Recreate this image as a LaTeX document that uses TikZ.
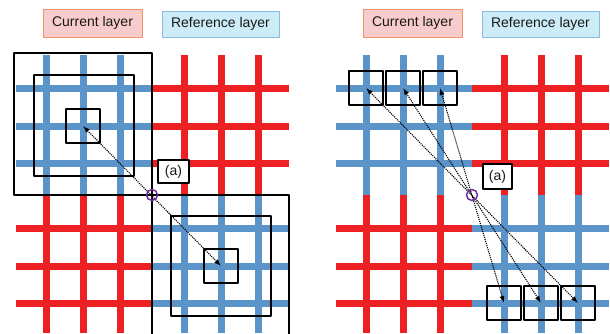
\documentclass[tikz,border=0pt]{standalone}
\usepackage{fontspec}
\setmainfont{Liberation Sans}
\usepackage{xcolor}
\usepackage{tikz}
\usetikzlibrary{arrows.meta,calc}

\definecolor{gridblue}{RGB}{91,148,201}
\definecolor{gridred}{RGB}{237,32,36}
\definecolor{curfill}{RGB}{248,203,204}
\definecolor{curedge}{RGB}{240,150,100}
\definecolor{reffill}{RGB}{204,236,248}
\definecolor{refedge}{RGB}{140,185,225}
\definecolor{hubcol}{RGB}{112,48,160}

\begin{document}
\begin{tikzpicture}[x=1pt, y=-1pt, line join=round,
    bar/.style={line width=7pt},
    win/.style={draw=black, line width=1.7pt},
    cell/.style={rectangle, draw=black, line width=2pt, minimum width=34pt, minimum height=34pt, inner sep=0pt},
    tag/.style={draw, line width=1pt, minimum height=27pt, inner sep=0pt,
        font=\fontsize{14}{16}\selectfont, text=black!90},
    ptr/.style={densely dotted, line width=1.1pt,
        {Latex[length=7pt,width=5pt]}-{Latex[length=7pt,width=5pt]}},
    hub/.style={circle, draw=hubcol, line width=1.5pt, minimum size=11pt, inner sep=0pt}]
    \useasboundingbox (0,0) rectangle (610,333);

    % two grids, each split into four quadrants around its centre
    \foreach \cx in {152,472} {
        \begin{scope}[shift={(\cx,195)}]
            \foreach \v in {-106,-69,-32} {
                \draw[bar, gridblue] (\v,-140) -- (\v,0);
                \draw[bar, gridred] (\v,0) -- (\v,138);
            }
            \foreach \v in {32,69,106} {
                \draw[bar, gridred] (\v,-140) -- (\v,0);
                \draw[bar, gridblue] (\v,0) -- (\v,138);
            }
            \foreach \h in {-107,-69,-32} {
                \draw[bar, gridblue] (-136,\h) -- (0,\h);
                \draw[bar, gridred] (0,\h) -- (137,\h);
            }
            \foreach \h in {33,71,108} {
                \draw[bar, gridred] (-136,\h) -- (0,\h);
                \draw[bar, gridblue] (0,\h) -- (137,\h);
            }
        \end{scope}
    }

    % layer legends
    \foreach \s/\n in {0/L,320/R} {
        \node[tag, fill=curfill, draw=curedge, minimum width=99pt, minimum height=28pt] (cur\n) at (92.5+\s,23) {Current layer};
        \node[tag, fill=reffill, draw=refedge, minimum width=117pt, minimum height=26pt] (ref\n) at (220.5+\s,24) {Reference layer};
    }

    % left: nested search windows
    \draw[win] (14,53) rectangle (152,195);
    \draw[win] (34,75) rectangle (134,176);
    \node[cell] (curcell) at (83,126) {};
    \draw[win, line width=1.1pt] (152,340) -- (152,195) -- (289,195) -- (289,340);
    \draw[win] (171,216) rectangle (271,316);
    \node[cell] (refcell) at (221,266) {};
    \draw[ptr] (curcell.center) -- (refcell.center);
    \node[hub] (hubL) at (152,195) {};
    \node[tag, fill=white, draw=black, line width=1.6pt, minimum width=31pt, minimum height=23pt] (markL) at (173.5,171.5) {(a)};

    % right: mirrored blocks through the centre
    \foreach \i/\x in {1/366,2/403,3/440}
        \node[cell] (top\i) at (\x,88) {};
    \foreach \i/\x in {1/504,2/541,3/578}
        \node[cell] (bot\i) at (\x,303) {};
    \foreach \i/\j in {1/3,2/2,3/1}
        \draw[ptr] (top\i.center) -- (bot\j.center);
    \node[hub] (hubR) at (472,195) {};
    \node[tag, fill=white, draw=black, line width=1.6pt, minimum width=29pt, minimum height=25pt] (markR) at (497.5,176.5) {(a)};
\end{tikzpicture}
\end{document}
